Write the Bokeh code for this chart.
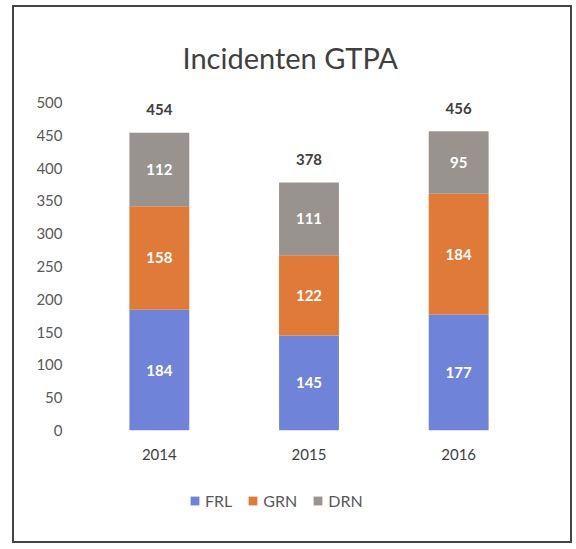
from bokeh.plotting import figure
from bokeh.layouts import column
from bokeh.models import ColumnDataSource, Legend, LegendItem, FactorRange, Range1d
from bokeh.embed import file_html
from bokeh.resources import INLINE
from bokeh.core.properties import value

years = ["2014", "2015", "2016"]
series = ["FRL", "GRN", "DRN"]
frl = [184, 145, 177]
grn = [158, 122, 184]
drn = [112, 111, 95]
totals = [454, 378, 456]
colors = ["#6F84D8", "#E07A38", "#98938E"]
yticks = [0, 50, 100, 150, 200, 250, 300, 350, 400, 450, 500]

FONT = "Lato"

data = {"year": years, "FRL": frl, "GRN": grn, "DRN": drn, "total": totals}
src = ColumnDataSource(data)

p = figure(x_range=FactorRange(*years, range_padding=0), y_range=Range1d(0, 500),
           frame_width=449, frame_height=328, output_backend="svg", toolbar_location=None,
           min_border_left=70, min_border_right=37, min_border_top=95, min_border_bottom=45)

r = p.vbar_stack(series, x="year", width=0.4, color=colors, source=src, line_color=None)

# segment labels
bottoms = {"FRL": [0, 0, 0], "GRN": frl, "DRN": [a + b for a, b in zip(frl, grn)]}
vals = {"FRL": frl, "GRN": grn, "DRN": drn}
for s in series:
    mids = [b + v / 2 for b, v in zip(bottoms[s], vals[s])]
    ls = ColumnDataSource({"year": years, "y": mids, "t": [str(v) for v in vals[s]]})
    p.text(x="year", y="y", text="t", source=ls, text_color="white",
           text_font=value(FONT), text_font_style="bold", text_font_size="15px",
           text_align="center", text_baseline="middle")

ts = ColumnDataSource({"year": years, "y": totals, "t": [str(v) for v in totals]})
p.text(x="year", y="y", text="t", source=ts, text_color="#404040",
       text_font=value(FONT), text_font_style="bold", text_font_size="15px",
       text_align="center", text_baseline="middle", y_offset=-23)

p.title.text = "Incidenten GTPA"
p.title.align = "left"
p.title.offset = 98
p.title.text_font = FONT
p.title.text_font_size = "29px"
p.title.text_font_style = "normal"
p.title.text_color = "#404040"
p.title.standoff = 56

p.outline_line_color = None
p.grid.grid_line_color = None
p.background_fill_color = "white"

p.yaxis.ticker = yticks
p.yaxis.axis_line_color = None
p.yaxis.major_tick_line_color = None
p.yaxis.minor_tick_line_color = None
p.yaxis.major_tick_out = 0
p.yaxis.major_label_text_font = FONT
p.yaxis.major_label_text_font_size = "15px"
p.yaxis.major_label_text_color = "#595959"
p.yaxis.major_label_standoff = 22

p.xaxis.axis_line_color = None
p.xaxis.major_tick_line_color = None
p.xaxis.minor_tick_line_color = None
p.xaxis.major_tick_out = 0
p.xaxis.major_label_text_font = FONT
p.xaxis.major_label_text_font_size = "15px"
p.xaxis.major_label_text_color = "#404040"
p.xaxis.major_label_standoff = 18

# legend strip: same stacked series, drawn out of its visible range so only the legend shows
p2 = figure(x_range=FactorRange(*years, range_padding=0), y_range=Range1d(1000, 1100),
            width=556, height=66, output_backend="svg", toolbar_location=None,
            x_axis_type=None, y_axis_type=None,
            min_border_left=0, min_border_right=0, min_border_top=0, min_border_bottom=0)
p2.outline_line_color = None
p2.grid.grid_line_color = None
r2 = p2.vbar_stack(series, x="year", width=0.4, color=colors, source=src, line_color=None)

legend = Legend(items=[LegendItem(label=s, renderers=[r2[i]]) for i, s in enumerate(series)],
                orientation="horizontal", location=(105, 31))
legend.label_text_font = FONT
legend.label_text_font_size = "16px"
legend.label_text_color = "#595959"
legend.glyph_width = 11
legend.glyph_height = 11
legend.label_standoff = 5
legend.spacing = 15
legend.padding = 0
legend.margin = 0
legend.border_line_color = None
legend.background_fill_alpha = 0
p2.add_layout(legend)

layout = column(p, p2, spacing=0)
layout.styles = {"border": "2px solid #444444", "margin-left": "12px", "margin-top": "5px"}

open("out.html", "w").write(file_html(layout, INLINE))
